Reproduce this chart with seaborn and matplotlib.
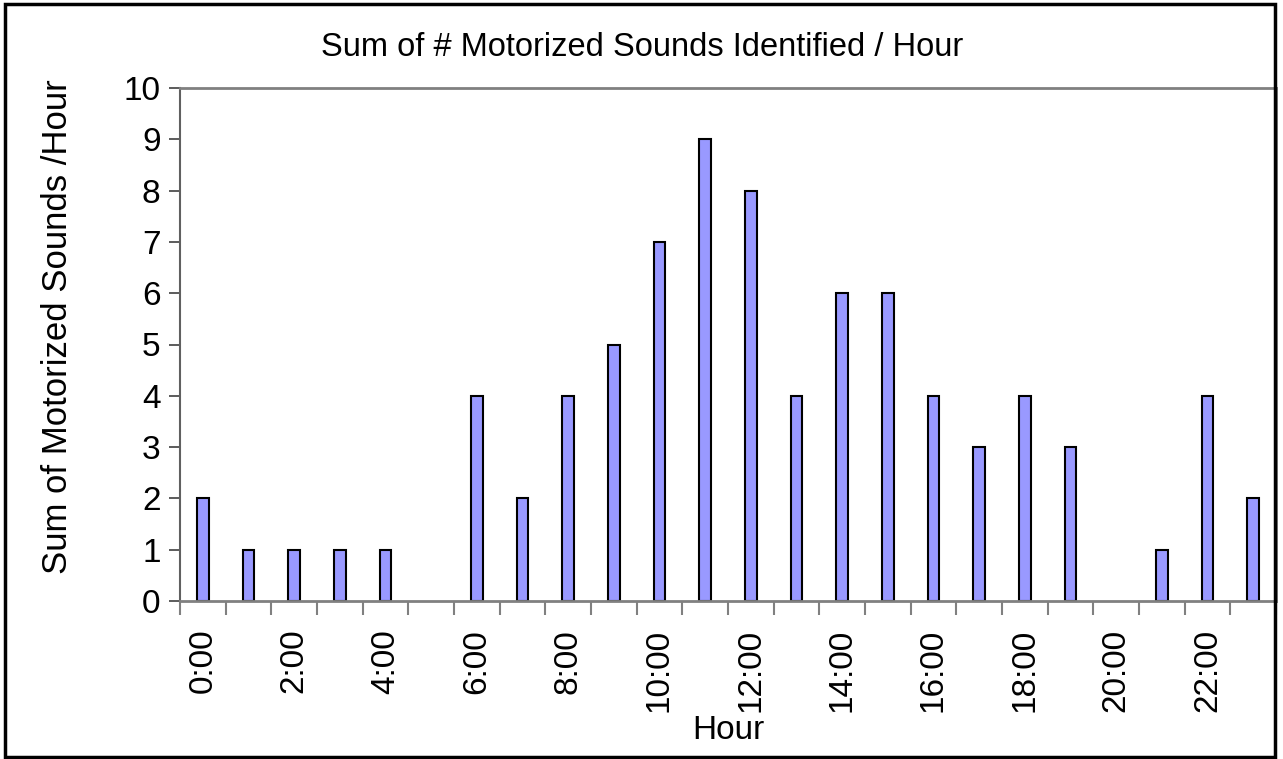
import matplotlib
matplotlib.use("Agg")
import matplotlib.pyplot as plt
import seaborn as sns
import pandas as pd
from matplotlib.patches import Rectangle

hours = [f"{h}:00" for h in range(24)]
counts = [2, 1, 1, 1, 1, 0, 4, 2, 4, 5, 7, 9, 8, 4, 6, 6, 4, 3, 4, 3, 0, 1, 4, 2]
yticks = list(range(0, 11))

sns.set_theme(style="white")
plt.rcParams['font.family'] = ['Liberation Sans', 'DejaVu Sans']
plt.rcParams['text.color'] = 'black'
plt.rcParams['axes.labelcolor'] = 'black'
plt.rcParams['xtick.labelcolor'] = 'black'
plt.rcParams['ytick.labelcolor'] = 'black'

FS = 24

df = pd.DataFrame({"Hour": hours, "Count": counts})

fig = plt.figure(figsize=(12.83, 7.59), dpi=100)
ax = fig.add_axes([180/1283, 1-601/759, (1276-180)/1283, (601-88)/759])

sns.barplot(data=df, x="Hour", y="Count", order=hours, color="#9999FF",
            width=0.25, edgecolor="black", linewidth=1.5, saturation=1, ax=ax)
for p in ax.patches:
    if p.get_height() == 0:
        p.set_linewidth(0)

ax.set_xlim(-0.5, 23.5)
ax.set_ylim(0, 10)
ax.set_yticks(yticks)
ax.set_yticklabels([str(v) for v in yticks], fontsize=FS)
ax.set_xticks(range(0, 24, 2))
ax.set_xticklabels([hours[i] for i in range(0, 24, 2)], rotation=90, fontsize=FS)
ax.set_xticks([i - 0.5 for i in range(25)], minor=True)
ax.tick_params(axis='x', which='major', length=0, pad=20)
ax.tick_params(axis='x', which='minor', length=10, width=1.5, color="#808080", direction='out', bottom=True)
ax.tick_params(axis='y', length=8, width=1.2, color="#404040", direction='out', left=True, pad=6)

for s in ["top", "bottom", "left", "right"]:
    ax.spines[s].set_visible(True)
ax.spines["top"].set_color("#808080")
ax.spines["top"].set_linewidth(2)
ax.spines["bottom"].set_color("#808080")
ax.spines["bottom"].set_linewidth(2)
ax.spines["left"].set_color("#606060")
ax.spines["left"].set_linewidth(1.5)
ax.spines["right"].set_color("#808080")
ax.spines["right"].set_linewidth(2)

ax.set_xlabel("Hour", fontsize=FS, labelpad=2)
ax.set_ylabel("Sum of Motorized Sounds /Hour", fontsize=25)
ax.yaxis.set_label_coords(-0.097, 0.535)

fig.text(642/1283, 1-47/759, "Sum of # Motorized Sounds Identified / Hour",
         ha="center", va="center", fontsize=23.5)

fig.patches.append(Rectangle((5/1283, 1-757/759), (1275-5)/1283, (757-4)/759,
                             transform=fig.transFigure, fill=False,
                             edgecolor="black", linewidth=2.5))

fig.savefig("out.png", dpi=100)
